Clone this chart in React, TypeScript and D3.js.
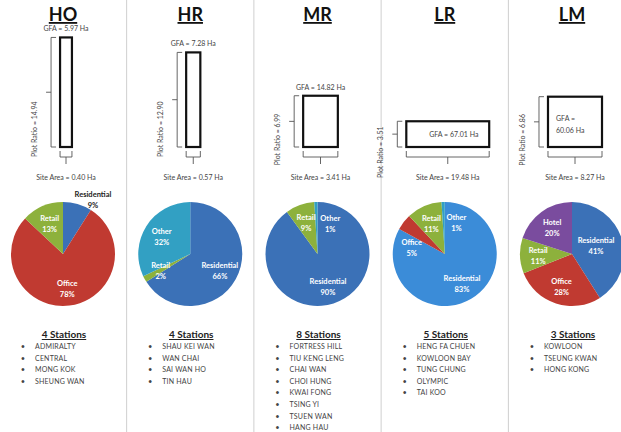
import * as d3 from "d3";
import React from "react";

// zone typologies
const zones = ["HO", "HR", "MR", "LR", "LM"];
const gfa = [5.97, 7.28, 14.82, 67.01, 60.06];
const plotRatio = [14.94, 12.9, 6.99, 3.51, 6.86];
const siteArea = [0.4, 0.57, 3.41, 19.48, 8.27];

// land use mix (%), clockwise from 12 o'clock
const landUse = [
  [
    { cat: "Residential", v: 9 },
    { cat: "Office", v: 78 },
    { cat: "Retail", v: 13 },
  ],
  [
    { cat: "Residential", v: 66 },
    { cat: "Retail", v: 2 },
    { cat: "Other", v: 32 },
  ],
  [
    { cat: "Residential", v: 90 },
    { cat: "Retail", v: 9 },
    { cat: "Other", v: 1 },
  ],
  [
    { cat: "Residential", v: 83 },
    { cat: "Office", v: 5 },
    { cat: "Retail", v: 11 },
    { cat: "Other", v: 1 },
  ],
  [
    { cat: "Residential", v: 41 },
    { cat: "Office", v: 28 },
    { cat: "Retail", v: 11 },
    { cat: "Hotel", v: 20 },
  ],
];

const stations = [
  ["ADMIRALTY", "CENTRAL", "MONG KOK", "SHEUNG WAN"],
  ["SHAU KEI WAN", "WAN CHAI", "SAI WAN HO", "TIN HAU"],
  ["FORTRESS HILL", "TIU KENG LENG", "CHAI WAN", "CHOI HUNG", "KWAI FONG", "TSING YI", "TSUEN WAN", "HANG HAU"],
  ["HENG FA CHUEN", "KOWLOON BAY", "TUNG CHUNG", "OLYMPIC", "TAI KOO"],
  ["KOWLOON", "TSEUNG KWAN", "HONG KONG"],
];

const outsideLabels = ["HO:Residential"];

const COLORS: Record<string, string> = {
  Residential: "#3b71b7",
  Office: "#c03a31",
  Retail: "#8db13c",
  Other: "#32a0c3",
  Hotel: "#7a4c9e",
};
const LR_RES = "#3b8cd8";

const W = 621;
const H = 432;
const FONT = "Lato, 'Open Sans', sans-serif";
const TXT = "#444";

type Slice = { cat: string; v: number };

const App: React.FC = () => {
  const colX = d3.scalePoint<string>().domain(zones).range([63, 572]);
  const widthScale = d3.scaleSqrt().domain([0, 20]).range([0, 84]);
  const heightScale = d3.scaleLinear().domain([0, 15]).range([0, 110]);
  const rectBottom = 147;

  const R = 52;
  const pieY = 254;
  const pieGen = d3
    .pie<Slice>()
    .value((d) => d.v)
    .sort(null);
  const arc = d3.arc<d3.PieArcDatum<Slice>>().innerRadius(0).outerRadius(R);

  const step = colX.step();
  const dividers = zones.slice(1).map((z) => (colX(z) as number) - step / 2);

  return (
    <svg
      width={W}
      height={H}
      style={{ position: "absolute", left: 0, top: 0, background: "#fff" }}
      fontFamily={FONT}
    >
      <rect width={W} height={H} fill="#fff" />
      {dividers.map((x, i) => (
        <line key={i} x1={x} x2={x} y1={0} y2={H} stroke="#cfcfcf" strokeWidth={1} />
      ))}

      {zones.map((z, i) => {
        const cx = colX(z) as number;
        const w = widthScale(siteArea[i]);
        const h = heightScale(plotRatio[i]);
        const rx = cx + 3 - w / 2;
        const top = rectBottom - h;
        const mid = top + h / 2;
        const bx = rx - 9;
        const by = rectBottom + 10;
        const prStart = h > 80 ? rectBottom + 10 : mid + 18;

        // pie labels
        const arcs = pieGen(landUse[i]);
        type Lab = { x: number; y: number; w: number; d: d3.PieArcDatum<Slice>; out: boolean };
        const labs: Lab[] = [];
        const lr = R * 0.65;
        const pos = (a: number, r: number) => [Math.sin(a) * r, -Math.cos(a) * r];
        const order = [...arcs].sort((a, b) => b.data.v - a.data.v);
        order.forEach((d) => {
          const out = outsideLabels.includes(`${z}:${d.data.cat}`);
          const lw = Math.max(d.data.cat.length, 3) * 4;
          let a = (d.startAngle + d.endAngle) / 2;
          if (out) {
            const [x, y] = pos(a, R * 1.1);
            labs.push({ x: x + 14, y: y, w: lw, d, out });
            return;
          }
          let [x, y] = pos(a, lr);
          if (d.data.v <= 5) {
            const hit = () =>
              labs.find((l) => Math.abs(l.x - x) < (l.w + lw) / 2 + 2 && Math.abs(l.y - y) < 24);
            let other = hit();
            let guard = 0;
            while (other && guard < 60) {
              const oa = (other.d.startAngle + other.d.endAngle) / 2;
              const dir = a > oa ? 1 : -1;
              a += dir * (Math.PI / 90);
              [x, y] = pos(a, lr);
              other = hit();
              guard++;
            }
          }
          // keep inside the page
          x = Math.min(x, W - 3 - cx - lw / 2);
          labs.push({ x, y, w: lw, d, out });
        });

        return (
          <g key={z}>
            {/* title */}
            <text
              x={cx}
              y={21}
              textAnchor="middle"
              fontSize={18}
              fontWeight={700}
              fill="#111"
              textDecoration="underline"
            >
              {z}
            </text>

            {/* building envelope */}
            <rect x={rx} y={top} width={w} height={h} fill="none" stroke="#111" strokeWidth={2.2} />
            <path
              d={`M${bx + 5},${top} H${bx} V${rectBottom} H${bx + 5} M${bx},${mid} H${bx - 5}`}
              fill="none"
              stroke="#555"
              strokeWidth={0.9}
            />
            <path
              d={`M${rx},${by - 6} V${by} H${rx + w} V${by - 6} M${rx + w / 2},${by} V${by + 7}`}
              fill="none"
              stroke="#555"
              strokeWidth={0.9}
            />
            <text
              transform={`translate(${bx - 14},${prStart}) rotate(-90)`}
              fontSize={7}
              fill={TXT}
              textAnchor={h > 80 ? "start" : "middle"}
            >
              {`Plot Ratio = ${plotRatio[i].toFixed(2)}`}
            </text>
            <text x={rx + w / 2} y={rectBottom + 33} textAnchor="middle" fontSize={7} fill={TXT}>
              {`Site Area = ${siteArea[i].toFixed(2)} Ha`}
            </text>
            {w > 70 ? (
              <text x={rx + w / 2 + 6} y={mid + 2.5} textAnchor="middle" fontSize={7} fill={TXT}>
                {`GFA = ${gfa[i].toFixed(2)} Ha`}
              </text>
            ) : w > 45 ? (
              <text x={rx + 8} y={mid - 1} fontSize={7} fill={TXT}>
                <tspan x={rx + 8}>GFA =</tspan>
                <tspan x={rx + 8} dy={12}>{`${gfa[i].toFixed(2)} Ha`}</tspan>
              </text>
            ) : (
              <text x={rx + w / 2} y={top - 6} textAnchor="middle" fontSize={7} fill={TXT}>
                {`GFA = ${gfa[i].toFixed(2)} Ha`}
              </text>
            )}

            {/* land use pie */}
            <g transform={`translate(${cx},${pieY})`}>
              {arcs.map((d) => (
                <path
                  key={d.data.cat}
                  d={arc(d) as string}
                  fill={z === "LR" && d.data.cat === "Residential" ? LR_RES : COLORS[d.data.cat]}
                  stroke="none"
                />
              ))}
              {labs.map((l) => (
                <text
                  key={l.d.data.cat}
                  x={l.x}
                  y={l.y}
                  textAnchor="middle"
                  fontSize={7.5}
                  fontWeight={700}
                  fill={l.out ? "#222" : "#fff"}
                >
                  <tspan x={l.x} dy={-2}>
                    {l.d.data.cat}
                  </tspan>
                  <tspan x={l.x} dy={11}>{`${l.d.data.v}%`}</tspan>
                </text>
              ))}
            </g>

            {/* stations */}
            <text
              x={cx + 1}
              y={338}
              textAnchor="middle"
              fontSize={10}
              fontWeight={700}
              fill="#222"
              textDecoration="underline"
            >
              {`${stations[i].length} Stations`}
            </text>
            {stations[i].map((s, j) => (
              <g key={s}>
                <text x={cx - 40} y={349 + j * 11.6} fontSize={7.5} fill={TXT} textAnchor="middle">
                  •
                </text>
                <text x={cx - 28} y={349 + j * 11.6} fontSize={7} fill={TXT} letterSpacing={0.2}>
                  {s}
                </text>
              </g>
            ))}
          </g>
        );
      })}
    </svg>
  );
};

export default App;
